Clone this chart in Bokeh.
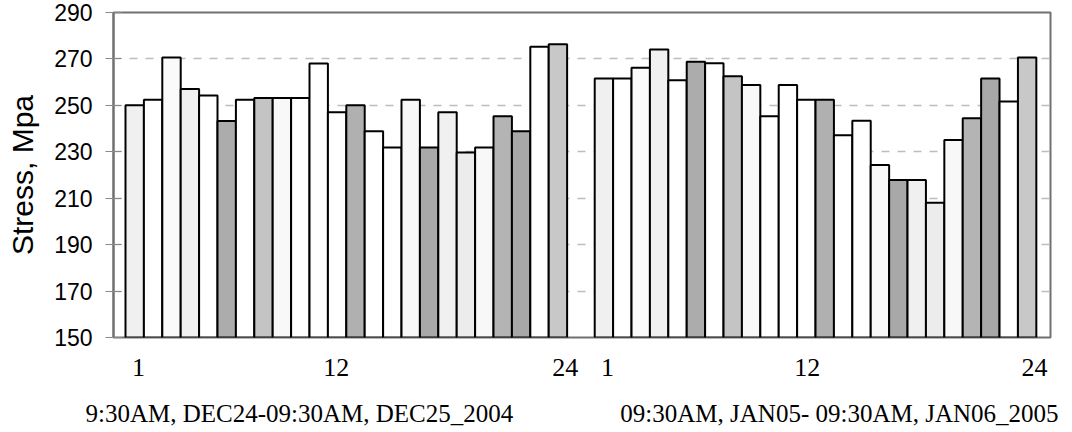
from bokeh.plotting import figure
from bokeh.models import ColumnDataSource, FixedTicker, LinearAxis, Range1d
from bokeh.embed import file_html
from bokeh.resources import INLINE

# ---- data ----
hours = list(range(1, 25))
stress_dec = [250.0, 252.4, 270.6, 257.1, 254.2, 243.3, 252.4, 253.2, 253.2, 253.2, 268.0, 247.0,
              250.0, 238.8, 231.8, 252.4, 231.8, 247.0, 229.7, 231.8, 245.3, 238.8, 275.2, 276.3]
stress_jan = [261.6, 261.6, 266.2, 274.1, 260.8, 268.8, 268.1, 262.5, 258.8, 245.3, 258.8, 252.4,
              252.4, 237.1, 243.4, 224.3, 217.8, 217.8, 208.1, 235.1, 244.4, 261.6, 251.7, 270.6]
bar_colors = ["#f0f0f0", "#ffffff", "#fafafa", "#f0f0f0", "#ffffff", "#acacac",
              "#ffffff", "#c4c4c4", "#f8f8f8", "#ffffff", "#ffffff", "#ffffff",
              "#b0b0b0", "#ffffff", "#ffffff", "#f8f8f8", "#a8a8a8", "#f0f0f0",
              "#ececec", "#f8f8f8", "#b4b4b4", "#a8a8a8", "#ffffff", "#c8c8c8"]
hour_tick_labels = ["1", "12", "24"]
group_labels = ["9:30AM, DEC24-09:30AM, DEC25_2004", "09:30AM, JAN05- 09:30AM, JAN06_2005"]
y_ticks = [150, 170, 190, 210, 230, 250, 270, 290]
y_label = "Stress, Mpa"

# ---- layout ----
GROUP2_OFFSET = 25.5
x_dec = [h - 1 for h in hours]
x_jan = [GROUP2_OFFSET + h - 1 for h in hours]

src = ColumnDataSource(dict(
    x=x_dec + x_jan,
    top=stress_dec + stress_jan,
    color=bar_colors + bar_colors,
))

p = figure(frame_width=937, frame_height=325,
           x_range=Range1d(-1.152, 49.77), y_range=Range1d(150, 290),
           x_axis_type=None,
           output_backend="svg", toolbar_location=None,
           min_border_left=113, min_border_right=22, min_border_top=12, min_border_bottom=95,
           background_fill_color="white", border_fill_color="white")

p.outline_line_color = "#707070"
p.outline_line_width = 2

p.vbar(x="x", top="top", bottom=150, width=1.0, source=src,
       fill_color="color", line_color="black", line_width=2)

# y axis
ya = p.yaxis[0]
ya.ticker = FixedTicker(ticks=y_ticks)
ya.major_tick_in = 8
ya.major_tick_out = 8
ya.minor_tick_line_color = None
ya.major_tick_line_color = "#888888"
ya.axis_line_color = "#707070"
ya.axis_line_width = 2
ya.major_label_text_font = "Liberation Sans"
ya.major_label_text_font_size = "23px"
ya.major_label_text_color = "black"
ya.major_label_standoff = 13
ya.axis_label = y_label
ya.axis_label_text_font = "Liberation Sans"
ya.axis_label_text_font_size = "30px"
ya.axis_label_text_font_style = "normal"
ya.axis_label_text_color = "black"
ya.axis_label_standoff = 12

p.ygrid.grid_line_dash = "8 8"
p.ygrid.grid_line_color = "#bdbdbd"
p.ygrid.grid_line_width = 1.5
p.xgrid.visible = False

# hour ticks
hour_tick_pos = [0.2, 10.95, 23.4, 25.7, 36.55, 48.9]
ax1 = LinearAxis(ticker=FixedTicker(ticks=hour_tick_pos),
                 major_label_overrides={pos: lab for pos, lab in zip(hour_tick_pos, hour_tick_labels * 2)})
ax1.axis_line_color = None
ax1.major_tick_line_color = None
ax1.minor_tick_line_color = None
ax1.major_tick_out = 0
ax1.major_label_standoff = 21
ax1.major_label_text_font = "Liberation Serif"
ax1.major_label_text_font_size = "26px"
ax1.major_label_text_color = "black"
p.add_layout(ax1, "below")

# group labels
group_pos = [8.95, 38.3]
ax2 = LinearAxis(ticker=FixedTicker(ticks=group_pos),
                 major_label_overrides={pos: lab for pos, lab in zip(group_pos, group_labels)})
ax2.axis_line_color = None
ax2.major_tick_line_color = None
ax2.minor_tick_line_color = None
ax2.major_tick_out = 0
ax2.major_label_standoff = 21
ax2.major_label_text_font = "Liberation Serif"
ax2.major_label_text_font_size = "25px"
ax2.major_label_text_color = "black"
p.add_layout(ax2, "below")

open("out.html", "w").write(file_html(p, INLINE))
